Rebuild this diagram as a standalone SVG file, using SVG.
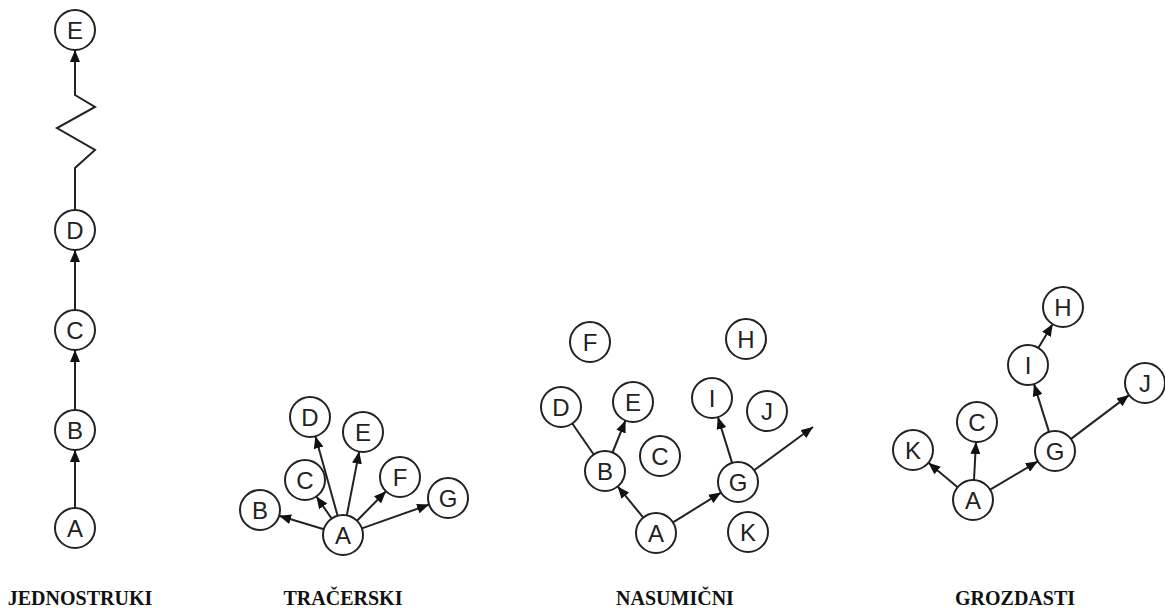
<svg xmlns="http://www.w3.org/2000/svg" width="1165" height="610" viewBox="0 0 1165 610">
<defs>
<style>
.n circle{fill:#fff;stroke:#222;stroke-width:2}
.n text{font-family:"Liberation Sans",Arial,sans-serif;font-size:24px;fill:#222;text-anchor:middle}
.e{stroke:#222;stroke-width:2;fill:none}
.a{marker-end:url(#arr)}
.lbl{font-family:"Liberation Serif","Times New Roman",serif;font-weight:bold;font-size:20px;fill:#111;text-anchor:middle}
</style>
<marker id="arr" markerUnits="userSpaceOnUse" markerWidth="12" markerHeight="10" refX="12" refY="5" orient="auto">
<path d="M0,0 L12,5 L0,10 z" fill="#111"/>
</marker>
</defs>
<rect width="1165" height="610" fill="#fff"/>
<g id="connectors">
<!-- column 1 -->
<line class="e a" x1="75" y1="508" x2="75" y2="450"/>
<line class="e a" x1="75" y1="410" x2="75" y2="350"/>
<line class="e a" x1="75" y1="310" x2="75" y2="250"/>
<path class="e a" d="M75,210 V168 L95,150 L57,128 L95,107 L75,95 V50"/>
<!-- column 2 -->
<line class="e a" x1="323.9" y1="529.2" x2="279.1" y2="515.8"/>
<line class="e a" x1="331.6" y1="518.5" x2="316.4" y2="496.5"/>
<line class="e a" x1="337.6" y1="515.7" x2="315.4" y2="436.3"/>
<line class="e a" x1="346.8" y1="515.4" x2="359.2" y2="451.6"/>
<line class="e a" x1="357" y1="520.7" x2="386" y2="491.3"/>
<line class="e a" x1="361.9" y1="528.4" x2="429.1" y2="504.6"/>
<!-- column 3 -->
<line class="e a" x1="643.3" y1="517.6" x2="617.7" y2="486.4"/>
<line class="e a" x1="673" y1="522.4" x2="721" y2="492.6"/>
<line class="e a" x1="612.5" y1="452.5" x2="625.5" y2="420.5"/>
<line class="e" x1="593.7" y1="454.5" x2="572.3" y2="423.5"/>
<line class="e a" x1="732.1" y1="462.9" x2="717.9" y2="417.1"/>
<line class="e a" x1="754.1" y1="470.2" x2="813" y2="427"/>
<!-- column 4 -->
<line class="e a" x1="957.6" y1="487.2" x2="928.4" y2="462.8"/>
<line class="e a" x1="974" y1="480" x2="976" y2="442"/>
<line class="e a" x1="990.2" y1="489.7" x2="1037.8" y2="461.3"/>
<line class="e a" x1="1049" y1="431.9" x2="1034" y2="384.1"/>
<line class="e a" x1="1071" y1="438.9" x2="1129" y2="395.1"/>
<line class="e a" x1="1038.3" y1="347.9" x2="1052.7" y2="324.1"/>
</g>
<!-- column 1 nodes -->
<g id="c1-E" class="n"><circle cx="75" cy="30" r="20"/><text x="75" y="38.5">E</text></g>
<g id="c1-D" class="n"><circle cx="75" cy="230" r="20"/><text x="75" y="238.5">D</text></g>
<g id="c1-C" class="n"><circle cx="75" cy="330" r="20"/><text x="75" y="338.5">C</text></g>
<g id="c1-B" class="n"><circle cx="75" cy="430" r="20"/><text x="75" y="438.5">B</text></g>
<g id="c1-A" class="n"><circle cx="75" cy="528" r="20"/><text x="75" y="536.5">A</text></g>
<!-- column 2 nodes -->
<g id="c2-A" class="n"><circle cx="343" cy="535" r="20"/><text x="343" y="543.5">A</text></g>
<g id="c2-B" class="n"><circle cx="260" cy="510" r="20"/><text x="260" y="518.5">B</text></g>
<g id="c2-C" class="n"><circle cx="305" cy="480" r="20"/><text x="305" y="488.5">C</text></g>
<g id="c2-D" class="n"><circle cx="310" cy="417" r="20"/><text x="310" y="425.5">D</text></g>
<g id="c2-E" class="n"><circle cx="363" cy="432" r="20"/><text x="363" y="440.5">E</text></g>
<g id="c2-F" class="n"><circle cx="400" cy="477" r="20"/><text x="400" y="485.5">F</text></g>
<g id="c2-G" class="n"><circle cx="448" cy="498" r="20"/><text x="448" y="506.5">G</text></g>
<!-- column 3 nodes -->
<g id="c3-A" class="n"><circle cx="656" cy="533" r="20"/><text x="656" y="541.5">A</text></g>
<g id="c3-B" class="n"><circle cx="605" cy="471" r="20"/><text x="605" y="479.5">B</text></g>
<g id="c3-C" class="n"><circle cx="660" cy="456" r="20"/><text x="660" y="464.5">C</text></g>
<g id="c3-D" class="n"><circle cx="561" cy="407" r="20"/><text x="561" y="415.5">D</text></g>
<g id="c3-E" class="n"><circle cx="633" cy="402" r="20"/><text x="633" y="410.5">E</text></g>
<g id="c3-F" class="n"><circle cx="590" cy="342" r="20"/><text x="590" y="350.5">F</text></g>
<g id="c3-G" class="n"><circle cx="738" cy="482" r="20"/><text x="738" y="490.5">G</text></g>
<g id="c3-H" class="n"><circle cx="746" cy="339" r="20"/><text x="746" y="347.5">H</text></g>
<g id="c3-I" class="n"><circle cx="712" cy="398" r="20"/><text x="712" y="406.5">I</text></g>
<g id="c3-J" class="n"><circle cx="767" cy="411" r="20"/><text x="767" y="419.5">J</text></g>
<g id="c3-K" class="n"><circle cx="748" cy="532" r="20"/><text x="748" y="540.5">K</text></g>
<!-- column 4 nodes -->
<g id="c4-A" class="n"><circle cx="973" cy="500" r="20"/><text x="973" y="508.5">A</text></g>
<g id="c4-K" class="n"><circle cx="913" cy="450" r="20"/><text x="913" y="458.5">K</text></g>
<g id="c4-C" class="n"><circle cx="977" cy="422" r="20"/><text x="977" y="430.5">C</text></g>
<g id="c4-G" class="n"><circle cx="1055" cy="451" r="20"/><text x="1055" y="459.5">G</text></g>
<g id="c4-I" class="n"><circle cx="1028" cy="365" r="20"/><text x="1028" y="373.5">I</text></g>
<g id="c4-H" class="n"><circle cx="1063" cy="307" r="20"/><text x="1063" y="315.5">H</text></g>
<g id="c4-J" class="n"><circle cx="1145" cy="383" r="20"/><text x="1145" y="391.5">J</text></g>
<!-- labels -->
<g id="labels">
<text class="lbl" x="80" y="605">JEDNOSTRUKI</text>
<text class="lbl" x="343" y="605">TRAČERSKI</text>
<text class="lbl" x="675" y="605">NASUMIČNI</text>
<text class="lbl" x="1015" y="605">GROZDASTI</text>
</g>
</svg>
